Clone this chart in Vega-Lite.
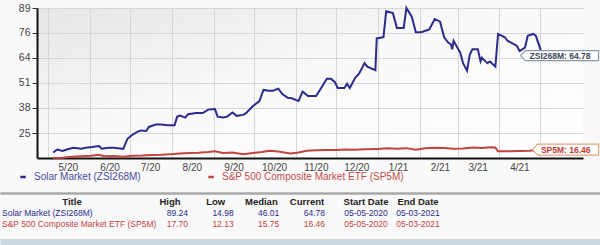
{
  "$schema": "https://vega.github.io/schema/vega-lite/v6.json",
  "width": 546,
  "height": 150,
  "autosize": {"type": "none"},
  "padding": {"left": 37, "top": 8, "right": 17, "bottom": 87},
  "background": "#f9f9f9",
  "config": {
    "view": {"stroke": null, "fill": {"gradient": "linear", "x1": 0, "y1": 0, "x2": 1, "y2": 1, "stops": [{"offset": 0, "color": "#e6e6e6"}, {"offset": 0.45, "color": "#f9f9f9"}, {"offset": 1, "color": "#ffffff"}]}},
    "font": "Liberation Sans"
  },
  "datasets": {
    "prices": [
      {"series": "Solar Market (ZSI268M)", "date": "2020-05-05", "value": 14.98},
      {"series": "Solar Market (ZSI268M)", "date": "2020-05-08", "value": 16.5},
      {"series": "Solar Market (ZSI268M)", "date": "2020-05-12", "value": 15.7},
      {"series": "Solar Market (ZSI268M)", "date": "2020-05-15", "value": 16.5},
      {"series": "Solar Market (ZSI268M)", "date": "2020-05-20", "value": 17.4},
      {"series": "Solar Market (ZSI268M)", "date": "2020-05-26", "value": 16.9},
      {"series": "Solar Market (ZSI268M)", "date": "2020-05-29", "value": 17.4},
      {"series": "Solar Market (ZSI268M)", "date": "2020-06-03", "value": 17.8},
      {"series": "Solar Market (ZSI268M)", "date": "2020-06-08", "value": 18.3},
      {"series": "Solar Market (ZSI268M)", "date": "2020-06-10", "value": 16.9},
      {"series": "Solar Market (ZSI268M)", "date": "2020-06-15", "value": 17.4},
      {"series": "Solar Market (ZSI268M)", "date": "2020-06-19", "value": 17.4},
      {"series": "Solar Market (ZSI268M)", "date": "2020-06-25", "value": 16.9},
      {"series": "Solar Market (ZSI268M)", "date": "2020-06-26", "value": 16.8},
      {"series": "Solar Market (ZSI268M)", "date": "2020-06-29", "value": 21.9},
      {"series": "Solar Market (ZSI268M)", "date": "2020-07-02", "value": 23.7},
      {"series": "Solar Market (ZSI268M)", "date": "2020-07-06", "value": 25.4},
      {"series": "Solar Market (ZSI268M)", "date": "2020-07-09", "value": 26.3},
      {"series": "Solar Market (ZSI268M)", "date": "2020-07-13", "value": 26.0},
      {"series": "Solar Market (ZSI268M)", "date": "2020-07-15", "value": 28.1},
      {"series": "Solar Market (ZSI268M)", "date": "2020-07-20", "value": 29.3},
      {"series": "Solar Market (ZSI268M)", "date": "2020-07-24", "value": 29.3},
      {"series": "Solar Market (ZSI268M)", "date": "2020-07-29", "value": 29.0},
      {"series": "Solar Market (ZSI268M)", "date": "2020-08-03", "value": 29.0},
      {"series": "Solar Market (ZSI268M)", "date": "2020-08-05", "value": 33.4},
      {"series": "Solar Market (ZSI268M)", "date": "2020-08-07", "value": 33.9},
      {"series": "Solar Market (ZSI268M)", "date": "2020-08-11", "value": 32.9},
      {"series": "Solar Market (ZSI268M)", "date": "2020-08-13", "value": 34.6},
      {"series": "Solar Market (ZSI268M)", "date": "2020-08-19", "value": 35.2},
      {"series": "Solar Market (ZSI268M)", "date": "2020-08-24", "value": 35.2},
      {"series": "Solar Market (ZSI268M)", "date": "2020-08-28", "value": 37.0},
      {"series": "Solar Market (ZSI268M)", "date": "2020-09-02", "value": 37.3},
      {"series": "Solar Market (ZSI268M)", "date": "2020-09-04", "value": 33.4},
      {"series": "Solar Market (ZSI268M)", "date": "2020-09-08", "value": 32.9},
      {"series": "Solar Market (ZSI268M)", "date": "2020-09-11", "value": 33.4},
      {"series": "Solar Market (ZSI268M)", "date": "2020-09-15", "value": 35.5},
      {"series": "Solar Market (ZSI268M)", "date": "2020-09-18", "value": 33.8},
      {"series": "Solar Market (ZSI268M)", "date": "2020-09-23", "value": 34.3},
      {"series": "Solar Market (ZSI268M)", "date": "2020-09-25", "value": 35.2},
      {"series": "Solar Market (ZSI268M)", "date": "2020-09-30", "value": 38.7},
      {"series": "Solar Market (ZSI268M)", "date": "2020-10-05", "value": 41.4},
      {"series": "Solar Market (ZSI268M)", "date": "2020-10-08", "value": 47.1},
      {"series": "Solar Market (ZSI268M)", "date": "2020-10-12", "value": 46.7},
      {"series": "Solar Market (ZSI268M)", "date": "2020-10-15", "value": 46.7},
      {"series": "Solar Market (ZSI268M)", "date": "2020-10-19", "value": 47.8},
      {"series": "Solar Market (ZSI268M)", "date": "2020-10-22", "value": 45.0},
      {"series": "Solar Market (ZSI268M)", "date": "2020-10-26", "value": 43.1},
      {"series": "Solar Market (ZSI268M)", "date": "2020-10-29", "value": 42.8},
      {"series": "Solar Market (ZSI268M)", "date": "2020-11-03", "value": 41.4},
      {"series": "Solar Market (ZSI268M)", "date": "2020-11-06", "value": 46.3},
      {"series": "Solar Market (ZSI268M)", "date": "2020-11-10", "value": 44.0},
      {"series": "Solar Market (ZSI268M)", "date": "2020-11-16", "value": 44.0},
      {"series": "Solar Market (ZSI268M)", "date": "2020-11-20", "value": 48.4},
      {"series": "Solar Market (ZSI268M)", "date": "2020-11-24", "value": 52.9},
      {"series": "Solar Market (ZSI268M)", "date": "2020-11-27", "value": 52.9},
      {"series": "Solar Market (ZSI268M)", "date": "2020-11-30", "value": 51.1},
      {"series": "Solar Market (ZSI268M)", "date": "2020-12-02", "value": 48.1},
      {"series": "Solar Market (ZSI268M)", "date": "2020-12-07", "value": 48.1},
      {"series": "Solar Market (ZSI268M)", "date": "2020-12-09", "value": 50.3},
      {"series": "Solar Market (ZSI268M)", "date": "2020-12-11", "value": 48.1},
      {"series": "Solar Market (ZSI268M)", "date": "2020-12-15", "value": 53.4},
      {"series": "Solar Market (ZSI268M)", "date": "2020-12-18", "value": 55.6},
      {"series": "Solar Market (ZSI268M)", "date": "2020-12-22", "value": 60.9},
      {"series": "Solar Market (ZSI268M)", "date": "2020-12-24", "value": 59.1},
      {"series": "Solar Market (ZSI268M)", "date": "2020-12-30", "value": 57.3},
      {"series": "Solar Market (ZSI268M)", "date": "2020-12-31", "value": 73.6},
      {"series": "Solar Market (ZSI268M)", "date": "2021-01-05", "value": 74.2},
      {"series": "Solar Market (ZSI268M)", "date": "2021-01-07", "value": 87.5},
      {"series": "Solar Market (ZSI268M)", "date": "2021-01-12", "value": 86.6},
      {"series": "Solar Market (ZSI268M)", "date": "2021-01-15", "value": 79.0},
      {"series": "Solar Market (ZSI268M)", "date": "2021-01-20", "value": 79.0},
      {"series": "Solar Market (ZSI268M)", "date": "2021-01-22", "value": 89.24},
      {"series": "Solar Market (ZSI268M)", "date": "2021-01-26", "value": 84.8},
      {"series": "Solar Market (ZSI268M)", "date": "2021-01-29", "value": 76.8},
      {"series": "Solar Market (ZSI268M)", "date": "2021-02-02", "value": 76.8},
      {"series": "Solar Market (ZSI268M)", "date": "2021-02-08", "value": 78.2},
      {"series": "Solar Market (ZSI268M)", "date": "2021-02-12", "value": 83.6},
      {"series": "Solar Market (ZSI268M)", "date": "2021-02-16", "value": 82.2},
      {"series": "Solar Market (ZSI268M)", "date": "2021-02-19", "value": 74.2},
      {"series": "Solar Market (ZSI268M)", "date": "2021-02-22", "value": 71.5},
      {"series": "Solar Market (ZSI268M)", "date": "2021-02-24", "value": 70.6},
      {"series": "Solar Market (ZSI268M)", "date": "2021-02-25", "value": 68.0},
      {"series": "Solar Market (ZSI268M)", "date": "2021-02-26", "value": 72.4},
      {"series": "Solar Market (ZSI268M)", "date": "2021-03-03", "value": 66.2},
      {"series": "Solar Market (ZSI268M)", "date": "2021-03-05", "value": 60.9},
      {"series": "Solar Market (ZSI268M)", "date": "2021-03-08", "value": 57.0},
      {"series": "Solar Market (ZSI268M)", "date": "2021-03-10", "value": 65.3},
      {"series": "Solar Market (ZSI268M)", "date": "2021-03-12", "value": 68.0},
      {"series": "Solar Market (ZSI268M)", "date": "2021-03-16", "value": 68.0},
      {"series": "Solar Market (ZSI268M)", "date": "2021-03-18", "value": 61.8},
      {"series": "Solar Market (ZSI268M)", "date": "2021-03-19", "value": 63.6},
      {"series": "Solar Market (ZSI268M)", "date": "2021-03-23", "value": 60.9},
      {"series": "Solar Market (ZSI268M)", "date": "2021-03-25", "value": 61.7},
      {"series": "Solar Market (ZSI268M)", "date": "2021-03-29", "value": 59.1},
      {"series": "Solar Market (ZSI268M)", "date": "2021-03-31", "value": 75.9},
      {"series": "Solar Market (ZSI268M)", "date": "2021-04-05", "value": 74.2},
      {"series": "Solar Market (ZSI268M)", "date": "2021-04-07", "value": 72.4},
      {"series": "Solar Market (ZSI268M)", "date": "2021-04-12", "value": 70.6},
      {"series": "Solar Market (ZSI268M)", "date": "2021-04-14", "value": 69.7},
      {"series": "Solar Market (ZSI268M)", "date": "2021-04-16", "value": 67.1},
      {"series": "Solar Market (ZSI268M)", "date": "2021-04-20", "value": 68.9},
      {"series": "Solar Market (ZSI268M)", "date": "2021-04-22", "value": 75.0},
      {"series": "Solar Market (ZSI268M)", "date": "2021-04-26", "value": 75.9},
      {"series": "Solar Market (ZSI268M)", "date": "2021-04-28", "value": 75.0},
      {"series": "Solar Market (ZSI268M)", "date": "2021-05-03", "value": 64.78},
      {"series": "S&P 500 Composite Market ETF (SP5M)", "date": "2020-05-05", "value": 12.13},
      {"series": "S&P 500 Composite Market ETF (SP5M)", "date": "2020-05-12", "value": 12.3},
      {"series": "S&P 500 Composite Market ETF (SP5M)", "date": "2020-05-19", "value": 12.8},
      {"series": "S&P 500 Composite Market ETF (SP5M)", "date": "2020-05-26", "value": 13.0},
      {"series": "S&P 500 Composite Market ETF (SP5M)", "date": "2020-06-02", "value": 13.3},
      {"series": "S&P 500 Composite Market ETF (SP5M)", "date": "2020-06-08", "value": 13.8},
      {"series": "S&P 500 Composite Market ETF (SP5M)", "date": "2020-06-12", "value": 13.0},
      {"series": "S&P 500 Composite Market ETF (SP5M)", "date": "2020-06-19", "value": 13.2},
      {"series": "S&P 500 Composite Market ETF (SP5M)", "date": "2020-06-26", "value": 12.8},
      {"series": "S&P 500 Composite Market ETF (SP5M)", "date": "2020-07-03", "value": 13.3},
      {"series": "S&P 500 Composite Market ETF (SP5M)", "date": "2020-07-10", "value": 13.4},
      {"series": "S&P 500 Composite Market ETF (SP5M)", "date": "2020-07-17", "value": 13.7},
      {"series": "S&P 500 Composite Market ETF (SP5M)", "date": "2020-07-24", "value": 13.8},
      {"series": "S&P 500 Composite Market ETF (SP5M)", "date": "2020-07-31", "value": 14.1},
      {"series": "S&P 500 Composite Market ETF (SP5M)", "date": "2020-08-07", "value": 14.4},
      {"series": "S&P 500 Composite Market ETF (SP5M)", "date": "2020-08-14", "value": 14.7},
      {"series": "S&P 500 Composite Market ETF (SP5M)", "date": "2020-08-21", "value": 14.8},
      {"series": "S&P 500 Composite Market ETF (SP5M)", "date": "2020-08-28", "value": 15.2},
      {"series": "S&P 500 Composite Market ETF (SP5M)", "date": "2020-09-02", "value": 15.6},
      {"series": "S&P 500 Composite Market ETF (SP5M)", "date": "2020-09-08", "value": 14.7},
      {"series": "S&P 500 Composite Market ETF (SP5M)", "date": "2020-09-15", "value": 14.9},
      {"series": "S&P 500 Composite Market ETF (SP5M)", "date": "2020-09-23", "value": 14.1},
      {"series": "S&P 500 Composite Market ETF (SP5M)", "date": "2020-09-30", "value": 14.7},
      {"series": "S&P 500 Composite Market ETF (SP5M)", "date": "2020-10-07", "value": 15.2},
      {"series": "S&P 500 Composite Market ETF (SP5M)", "date": "2020-10-12", "value": 15.8},
      {"series": "S&P 500 Composite Market ETF (SP5M)", "date": "2020-10-19", "value": 15.5},
      {"series": "S&P 500 Composite Market ETF (SP5M)", "date": "2020-10-28", "value": 14.5},
      {"series": "S&P 500 Composite Market ETF (SP5M)", "date": "2020-11-03", "value": 15.0},
      {"series": "S&P 500 Composite Market ETF (SP5M)", "date": "2020-11-09", "value": 15.9},
      {"series": "S&P 500 Composite Market ETF (SP5M)", "date": "2020-11-16", "value": 16.1},
      {"series": "S&P 500 Composite Market ETF (SP5M)", "date": "2020-11-24", "value": 16.3},
      {"series": "S&P 500 Composite Market ETF (SP5M)", "date": "2020-12-01", "value": 16.3},
      {"series": "S&P 500 Composite Market ETF (SP5M)", "date": "2020-12-08", "value": 16.5},
      {"series": "S&P 500 Composite Market ETF (SP5M)", "date": "2020-12-15", "value": 16.4},
      {"series": "S&P 500 Composite Market ETF (SP5M)", "date": "2020-12-22", "value": 16.6},
      {"series": "S&P 500 Composite Market ETF (SP5M)", "date": "2020-12-31", "value": 16.8},
      {"series": "S&P 500 Composite Market ETF (SP5M)", "date": "2021-01-08", "value": 17.1},
      {"series": "S&P 500 Composite Market ETF (SP5M)", "date": "2021-01-15", "value": 16.9},
      {"series": "S&P 500 Composite Market ETF (SP5M)", "date": "2021-01-22", "value": 17.2},
      {"series": "S&P 500 Composite Market ETF (SP5M)", "date": "2021-01-29", "value": 16.4},
      {"series": "S&P 500 Composite Market ETF (SP5M)", "date": "2021-02-05", "value": 17.1},
      {"series": "S&P 500 Composite Market ETF (SP5M)", "date": "2021-02-12", "value": 17.4},
      {"series": "S&P 500 Composite Market ETF (SP5M)", "date": "2021-02-19", "value": 17.3},
      {"series": "S&P 500 Composite Market ETF (SP5M)", "date": "2021-02-26", "value": 16.9},
      {"series": "S&P 500 Composite Market ETF (SP5M)", "date": "2021-03-05", "value": 17.0},
      {"series": "S&P 500 Composite Market ETF (SP5M)", "date": "2021-03-12", "value": 17.5},
      {"series": "S&P 500 Composite Market ETF (SP5M)", "date": "2021-03-19", "value": 17.3},
      {"series": "S&P 500 Composite Market ETF (SP5M)", "date": "2021-03-26", "value": 17.7},
      {"series": "S&P 500 Composite Market ETF (SP5M)", "date": "2021-03-29", "value": 17.5},
      {"series": "S&P 500 Composite Market ETF (SP5M)", "date": "2021-03-31", "value": 15.6},
      {"series": "S&P 500 Composite Market ETF (SP5M)", "date": "2021-04-09", "value": 15.6},
      {"series": "S&P 500 Composite Market ETF (SP5M)", "date": "2021-04-16", "value": 15.7},
      {"series": "S&P 500 Composite Market ETF (SP5M)", "date": "2021-04-23", "value": 15.8},
      {"series": "S&P 500 Composite Market ETF (SP5M)", "date": "2021-04-28", "value": 16.1},
      {"series": "S&P 500 Composite Market ETF (SP5M)", "date": "2021-05-03", "value": 16.46}
    ],
    "labels": [
      {"series": "ZSI268M", "date": "2021-05-03", "value": 64.78, "label": "ZSI268M: 64.78"},
      {"series": "SP5M", "date": "2021-05-03", "value": 16.46, "label": "SP5M: 16.46"}
    ],
    "table": [
      {"title": "Solar Market (ZSI268M)", "High": "89.24", "Low": "14.98", "Median": "46.01", "Current": "64.78", "Start Date": "05-05-2020", "End Date": "05-03-2021"},
      {"title": "S&P 500 Composite Market ETF (SP5M)", "High": "17.70", "Low": "12.13", "Median": "15.75", "Current": "16.46", "Start Date": "05-05-2020", "End Date": "05-03-2021"}
    ]
  },
  "layer": [
    {
      "layer": [
        {
          "data": {"name": "prices"},
          "mark": {"type": "line", "strokeWidth": 2},
          "encoding": {
            "x": {
              "field": "date", "type": "temporal",
              "scale": {"type": "utc", "domain": [{"year": 2020, "month": 4, "date": 23, "utc": true}, {"year": 2021, "month": 6, "date": 2, "utc": true}]},
              "axis": {
                "values": [
                  {"year": 2020, "month": 5, "date": 1, "utc": true},
                  {"year": 2020, "month": 6, "date": 1, "utc": true},
                  {"year": 2020, "month": 7, "date": 1, "utc": true},
                  {"year": 2020, "month": 8, "date": 1, "utc": true},
                  {"year": 2020, "month": 9, "date": 1, "utc": true},
                  {"year": 2020, "month": 10, "date": 1, "utc": true},
                  {"year": 2020, "month": 11, "date": 1, "utc": true},
                  {"year": 2020, "month": 12, "date": 1, "utc": true},
                  {"year": 2021, "month": 1, "date": 1, "utc": true},
                  {"year": 2021, "month": 2, "date": 1, "utc": true},
                  {"year": 2021, "month": 3, "date": 1, "utc": true},
                  {"year": 2021, "month": 4, "date": 1, "utc": true},
                  {"year": 2021, "month": 5, "date": 1, "utc": true}
                ],
                "tickCount": 40,
                "labelExpr": "datum.value >= 1619827200000 ? '' : utcFormat(datum.value, '%-m/%y')",
                "grid": true, "gridColor": "#d6d6d6", "gridWidth": 1,
                "ticks": false, "domainColor": "#111111", "domainWidth": 2,
                "labelOffset": 20, "labelOverlap": false, "labelFlush": false,
                "labelFontSize": 10, "labelColor": "#454545", "labelPadding": 4,
                "title": null
              }
            },
            "y": {
              "field": "value", "type": "quantitative",
              "scale": {"domain": [12.13, 89.24], "nice": false, "zero": false},
              "axis": {
                "values": [24.98, 37.84, 50.69, 63.54, 76.39, 89.24],
                "tickCount": 40,
                "format": ".0f",
                "grid": true, "gridColor": "#d6d6d6", "gridWidth": 1,
                "ticks": true, "tickSize": 5, "tickColor": "#333333",
                "domainColor": "#111111", "domainWidth": 2,
                "labelOverlap": false, "labelFlush": false,
                "labelFontSize": 10.5, "labelColor": "#454545", "labelPadding": 2,
                "title": null
              }
            },
            "color": {
              "field": "series", "type": "nominal",
              "scale": {"domain": ["Solar Market (ZSI268M)", "S&P 500 Composite Market ETF (SP5M)"], "range": ["#2b2b8c", "#c2433f"]},
              "legend": {
                "orient": "none", "legendX": -19, "legendY": 164, "direction": "horizontal",
                "title": null, "padding": 0, "symbolType": "stroke", "symbolSize": 30,
                "symbolStrokeWidth": 2.5, "labelFontSize": 10, "labelOffset": 6, "columnPadding": 62,
                "labelLimit": 400,
                "encode": {"labels": {"update": {"fill": [{"test": "datum.value === 'Solar Market (ZSI268M)'", "value": "#4a4aa2"}, {"value": "#c64a4a"}]}}}
              }
            }
          }
        },
        {
          "data": {"name": "labels"},
          "mark": {"type": "point", "size": 4, "filled": true, "fill": "#ffffff", "strokeWidth": 1.2, "opacity": 1},
          "encoding": {
            "x": {"field": "date", "type": "temporal"},
            "y": {"field": "value", "type": "quantitative"},
            "shape": {
              "field": "series", "type": "nominal",
              "scale": {"domain": ["ZSI268M", "SP5M"], "range": ["M-22,0 L-17,-5 L56,-5 L56,5 L-17,5 Z", "M-10,0 L-5,-5.5 L56,-5.5 L56,5.5 L-5,5.5 Z"]},
              "legend": null
            },
            "stroke": {
              "field": "series", "type": "nominal",
              "scale": {"domain": ["ZSI268M", "SP5M"], "range": ["#8a9aaa", "#e0a47e"]},
              "legend": null
            }
          }
        },
        {
          "data": {"name": "labels"},
          "mark": {"type": "text", "align": "right", "baseline": "middle", "dx": 48, "fontSize": 8.5, "fontWeight": "bold"},
          "encoding": {
            "x": {"field": "date", "type": "temporal"},
            "y": {"field": "value", "type": "quantitative"},
            "text": {"field": "label"},
            "fill": {
              "field": "series", "type": "nominal",
              "scale": {"domain": ["ZSI268M", "SP5M"], "range": ["#3e4856", "#c63a32"]},
              "legend": null
            }
          }
        }
      ]
    },
    {
      "data": {"name": "table"},
      "transform": [{"fold": ["High", "Low", "Median", "Current"], "as": ["key", "val"]}],
      "layer": [
        {
          "mark": {"type": "text", "align": "right", "baseline": "middle", "fontSize": 8.5},
          "encoding": {
            "x": {"field": "key", "type": "nominal", "scale": {"type": "point", "domain": ["High", "Low", "Median", "Current"], "range": [151, 288], "padding": 0}, "axis": null},
            "y": {"field": "title", "type": "nominal", "scale": {"type": "point", "domain": ["Title", "Solar Market (ZSI268M)", "S&P 500 Composite Market ETF (SP5M)"], "range": [194, 216], "padding": 0}, "axis": null},
            "text": {"field": "val"},
            "color": {"field": "title", "type": "nominal", "legend": null}
          }
        },
        {
          "transform": [{"filter": "datum.title === 'Solar Market (ZSI268M)'"}],
          "mark": {"type": "text", "align": "center", "baseline": "middle", "fontSize": 9.5, "fontWeight": "bold", "dx": -18, "color": "#222222"},
          "encoding": {
            "x": {"field": "key", "type": "nominal"},
            "y": {"datum": "Title", "type": "nominal"},
            "text": {"field": "key"}
          }
        }
      ]
    },
    {
      "data": {"name": "table"},
      "transform": [{"fold": ["Start Date", "End Date"], "as": ["key", "val"]}],
      "layer": [
        {
          "mark": {"type": "text", "align": "center", "baseline": "middle", "fontSize": 8.5},
          "encoding": {
            "x": {"field": "key", "type": "nominal", "scale": {"type": "point", "domain": ["Start Date", "End Date"], "range": [329, 381], "padding": 0}, "axis": null},
            "y": {"field": "title", "type": "nominal", "scale": {"type": "point", "domain": ["Title", "Solar Market (ZSI268M)", "S&P 500 Composite Market ETF (SP5M)"], "range": [194, 216], "padding": 0}, "axis": null},
            "text": {"field": "val"},
            "color": {"field": "title", "type": "nominal", "legend": null}
          }
        },
        {
          "transform": [{"filter": "datum.title === 'Solar Market (ZSI268M)'"}],
          "mark": {"type": "text", "align": "center", "baseline": "middle", "fontSize": 9.5, "fontWeight": "bold", "color": "#222222"},
          "encoding": {
            "x": {"field": "key", "type": "nominal"},
            "y": {"datum": "Title", "type": "nominal"},
            "text": {"field": "key"}
          }
        }
      ]
    },
    {
      "data": {"name": "table"},
      "transform": [{"filter": "datum.title === 'Solar Market (ZSI268M)'"}],
      "mark": {"type": "text", "align": "center", "baseline": "middle", "fontSize": 9.5, "fontWeight": "bold", "color": "#222222"},
      "encoding": {
        "x": {
          "datum": "Title", "type": "nominal", "bandPosition": 0.12,
          "scale": {"type": "band", "domain": ["Title"], "range": [-37, 563], "paddingInner": 0, "paddingOuter": 0},
          "axis": {"orient": "top", "offset": -185, "domain": true, "domainColor": "#a8a8a8", "domainWidth": 2.5, "labels": false, "ticks": false, "grid": false, "title": null}
        },
        "y": {"datum": "Title", "type": "nominal", "scale": {"type": "point", "domain": ["Title", "Solar Market (ZSI268M)", "S&P 500 Composite Market ETF (SP5M)"], "range": [194, 216], "padding": 0}, "axis": null},
        "text": {"value": "Title"}
      }
    },
    {
      "data": {"name": "table"},
      "mark": {"type": "text", "align": "left", "baseline": "middle", "fontSize": 8.5, "dx": 2},
      "encoding": {
        "x": {
          "datum": "Title", "type": "nominal", "bandPosition": 0,
          "scale": {"type": "band", "domain": ["Title"], "range": [-37, 563], "paddingInner": 0, "paddingOuter": 0},
          "axis": {"orient": "bottom", "offset": 85, "domain": true, "domainColor": "#ccd6de", "domainWidth": 9, "labels": false, "ticks": false, "grid": false, "title": null}
        },
        "y": {"field": "title", "type": "nominal", "scale": {"type": "point", "domain": ["Title", "Solar Market (ZSI268M)", "S&P 500 Composite Market ETF (SP5M)"], "range": [194, 216], "padding": 0}, "axis": null},
        "text": {"field": "title"},
        "color": {"field": "title", "type": "nominal", "legend": null}
      }
    }
  ],
  "resolve": {"scale": {"x": "independent", "y": "independent"}}
}
